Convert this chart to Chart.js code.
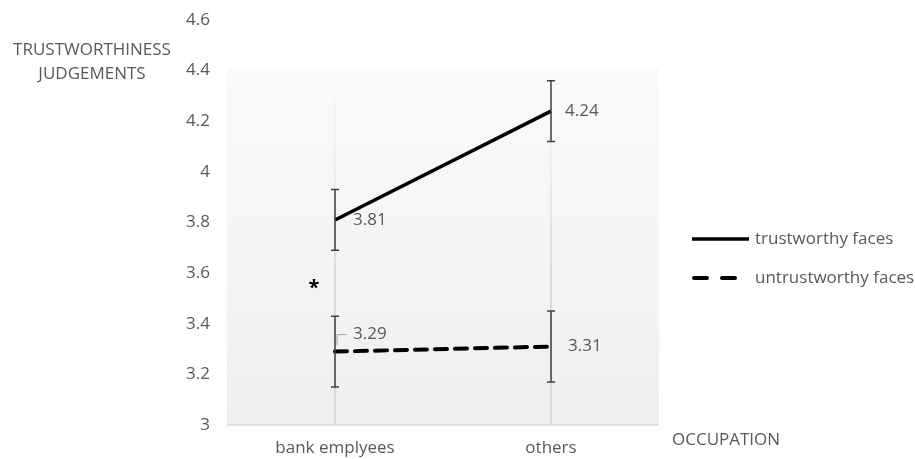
<!DOCTYPE html>
<html>
<head>
<meta charset="utf-8">
<script src="https://cdn.jsdelivr.net/npm/chart.js@4/dist/chart.umd.min.js"></script>
<style>
  html, body { margin: 0; padding: 0; background: #ffffff; }
  #wrap { width: 915px; height: 459px; }
</style>
</head>
<body>
<div id="wrap"><canvas id="c" width="915" height="459"></canvas></div>
<script>
// Occupation categories (x axis)
const categories = ['bank emplyees', 'others'];
// Mean trustworthiness judgements
const trustworthy = [3.81, 4.24];
const untrustworthy = [3.29, 3.31];
// Error bar half-lengths
const trustworthyErr = [0.12, 0.12];
const untrustworthyErr = [0.14, 0.14];
// Y axis range and step
const yMin = 3, yMax = 4.6, yStep = 0.2;
// Significance marker between the two bank-employee means
const sigMarkValue = 3.55;

const FONT = '"Open Sans", Lato, sans-serif';
const GREY = '#595959';
const SIZE = 17;

const decorations = {
  id: 'decorations',
  beforeDatasetsDraw(chart) {
    const { ctx, chartArea: a, scales: { x, y } } = chart;
    ctx.save();
    // plot area fill, lighter toward the top
    const top = y.getPixelForValue(4.41);
    const g = ctx.createLinearGradient(0, top, 0, a.bottom);
    g.addColorStop(0, '#fafafa');
    g.addColorStop(1, '#efefef');
    ctx.fillStyle = g;
    ctx.fillRect(a.left, top, a.right - a.left, a.bottom - top);
    // vertical category grid lines, fading out toward the top
    const gg = ctx.createLinearGradient(0, top, 0, a.bottom);
    gg.addColorStop(0, 'rgba(210,210,210,0)');
    gg.addColorStop(0.3, 'rgba(210,210,210,0.4)');
    gg.addColorStop(0.6, 'rgba(210,210,210,1)');
    gg.addColorStop(1, 'rgba(210,210,210,1)');
    ctx.strokeStyle = gg;
    ctx.lineWidth = 1.5;
    categories.forEach((c, i) => {
      const px = x.getPixelForValue(i);
      ctx.beginPath();
      ctx.moveTo(px, top);
      ctx.lineTo(px, a.bottom);
      ctx.stroke();
    });
    // bottom axis line
    ctx.strokeStyle = '#d9d9d9';
    ctx.beginPath();
    ctx.moveTo(a.left, a.bottom);
    ctx.lineTo(a.right, a.bottom);
    ctx.stroke();
    ctx.restore();
  },
  afterDatasetsDraw(chart) {
    const { ctx, scales: { x, y } } = chart;
    ctx.save();
    // error bars
    const bars = [[trustworthy, trustworthyErr], [untrustworthy, untrustworthyErr]];
    ctx.strokeStyle = '#404040';
    ctx.lineWidth = 1.5;
    bars.forEach(([vals, errs]) => {
      vals.forEach((v, i) => {
        const px = x.getPixelForValue(i);
        const yt = y.getPixelForValue(v + errs[i]);
        const yb = y.getPixelForValue(v - errs[i]);
        ctx.beginPath();
        ctx.moveTo(px, yt); ctx.lineTo(px, yb);
        ctx.moveTo(px - 4, yt); ctx.lineTo(px + 4, yt);
        ctx.moveTo(px - 4, yb); ctx.lineTo(px + 4, yb);
        ctx.stroke();
      });
    });
    // value labels
    ctx.font = SIZE + 'px ' + FONT;
    ctx.fillStyle = GREY;
    ctx.textBaseline = 'middle';
    ctx.textAlign = 'left';
    const fmt = v => v.toFixed(2);
    ctx.fillText(fmt(trustworthy[0]), x.getPixelForValue(0) + 18, y.getPixelForValue(trustworthy[0]));
    ctx.fillText(fmt(trustworthy[1]), x.getPixelForValue(1) + 14, y.getPixelForValue(trustworthy[1]));
    ctx.fillText(fmt(untrustworthy[1]), x.getPixelForValue(1) + 17, y.getPixelForValue(untrustworthy[1]));
    // label above the dashed line with a short leader
    const p0x = x.getPixelForValue(0), p0y = y.getPixelForValue(untrustworthy[0]);
    ctx.fillText(fmt(untrustworthy[0]), p0x + 18, p0y - 17);
    ctx.strokeStyle = '#a6a6a6';
    ctx.lineWidth = 1;
    ctx.beginPath();
    ctx.moveTo(p0x + 2, p0y - 6);
    ctx.lineTo(p0x + 2, p0y - 17);
    ctx.lineTo(p0x + 12, p0y - 17);
    ctx.stroke();
    // significance asterisk
    ctx.fillStyle = '#000000';
    ctx.textAlign = 'center';
    ctx.font = 'bold 20px ' + FONT;
    ctx.fillText('*', x.getPixelForValue(0) - 21, y.getPixelForValue(sigMarkValue) + 3);
    ctx.restore();
  },
  afterDraw(chart) {
    const { ctx } = chart;
    ctx.save();
    ctx.font = SIZE + 'px ' + FONT;
    ctx.fillStyle = GREY;
    ctx.textBaseline = 'middle';
    // y axis title
    ctx.textAlign = 'center';
    ctx.fillText('TRUSTWORTHINESS', 92, 50);
    ctx.fillText('JUDGEMENTS', 92, 74);
    // x axis title
    ctx.textAlign = 'left';
    ctx.fillText('OCCUPATION', 672, 440);
    // legend
    ctx.strokeStyle = '#000000';
    ctx.lineWidth = 3.5;
    ctx.beginPath();
    ctx.moveTo(692, 239); ctx.lineTo(749, 239);
    ctx.stroke();
    ctx.lineCap = 'round';
    ctx.lineWidth = 4;
    ctx.setLineDash([13, 15]);
    ctx.beginPath();
    ctx.moveTo(694, 278); ctx.lineTo(740, 278);
    ctx.stroke();
    ctx.setLineDash([]);
    ctx.fillStyle = GREY;
    ctx.fillText('trustworthy faces', 755, 239);
    ctx.fillText('untrustworthy faces', 755, 278);
    ctx.restore();
  }
};

new Chart(document.getElementById('c'), {
  type: 'line',
  data: {
    labels: categories,
    datasets: [
      {
        label: 'trustworthy faces',
        data: trustworthy,
        borderColor: '#000000',
        borderWidth: 3.5,
        pointRadius: 0,
        tension: 0
      },
      {
        label: 'untrustworthy faces',
        data: untrustworthy,
        borderColor: '#000000',
        borderWidth: 4,
        borderDash: [12, 8],
        borderCapStyle: 'round',
        pointRadius: 0,
        tension: 0
      }
    ]
  },
  options: {
    responsive: false,
    animation: false,
    layout: { padding: { top: 20, right: 256, bottom: 0, left: 0 } },
    plugins: { legend: { display: false }, tooltip: { enabled: false } },
    scales: {
      x: {
        offset: true,
        grid: { display: false },
        border: { display: false },
        ticks: { color: GREY, font: { family: FONT, size: SIZE }, padding: 5 },
        afterFit(s) { s.height = 34; }
      },
      y: {
        min: yMin,
        max: yMax,
        grid: { display: false },
        border: { display: false },
        ticks: {
          stepSize: yStep,
          color: GREY,
          font: { family: FONT, size: SIZE },
          padding: 9,
          callback: v => String(Number(v.toFixed(1)))
        },
        afterFit(s) { s.width = 227; }
      }
    }
  },
  plugins: [decorations]
});
</script>
</body>
</html>
